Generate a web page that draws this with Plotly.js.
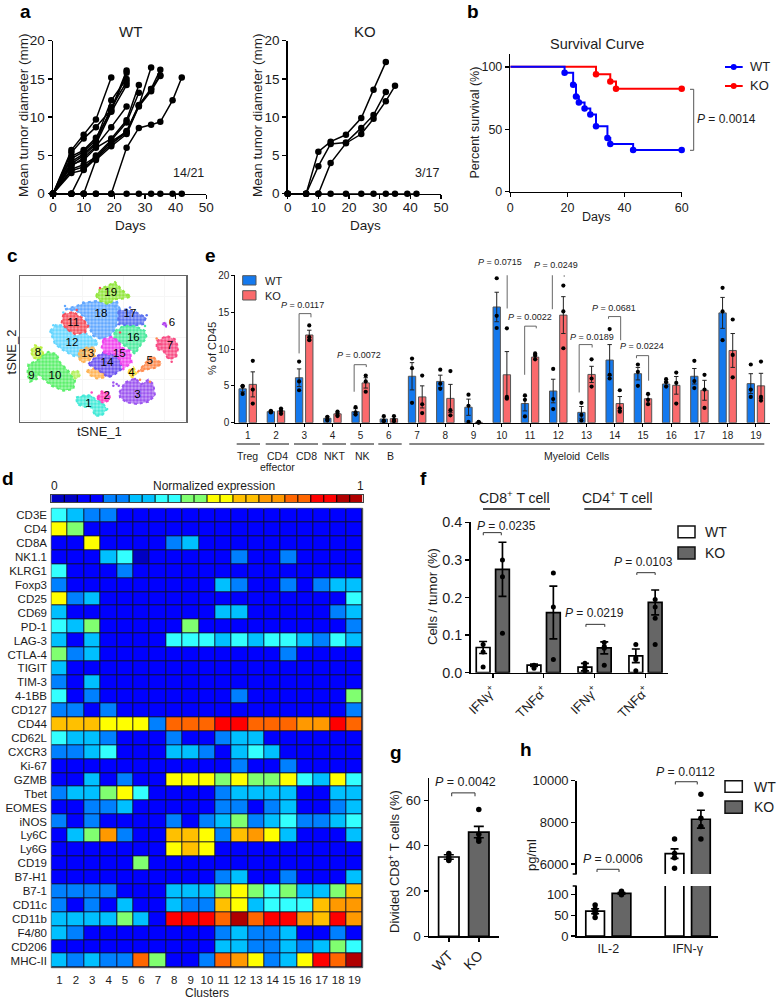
<!DOCTYPE html>
<html><head><meta charset="utf-8">
<script src="https://cdn.plot.ly/plotly-3.0.1.min.js"></script>
<style>html,body{margin:0;padding:0;background:#fff;overflow:hidden}</style>
</head><body><div id="chart" style="width:777px;height:1000px"></div>
<script>
// ---------- panel a
const aDays=[0,6,10,14,19,24,28,32,35,39,42];
const aWtTumors=[
 [0,5.7,7.7,9.7,15.2],
 [0,5.4,7.2,8.7,11.0,16.1],
 [0,4.9,5.7,7.3,10.8,15.8],
 [0,4.6,5.5,7.0,12.2,15.0],
 [0,4.2,5.2,6.7,11.3,14.6],
 [0,3.9,5.0,6.5,10.7,14.2],
 [0,3.6,4.7,6.2,8.7,11.4],
 [0,3.8,4.4,6.0,7.2,9.6,14.2],
 [0,0,3.2,5.0,7.0,9.3,13.2],
 [0,3.2,3.8,4.8,6.8,8.1,11.5,16.5],
 [0,3.0,3.5,4.6,6.5,8.0,11.5,13.7,16.2],
 [0,2.7,3.1,4.6,6.5,8.2,11.6,13.7,15.5],
 [0,0,0,4.4,6.2,7.8,11.4,13.4,15.4],
 [0,0,0,0,0,6.0,8.6,9.0,9.4,12.2,15.2],
 [0,0,0,0,0,0,0,0,0,0,0]];
const aKoTumors=[
 [0,0,5.5,6.8,7.7,9.9,13.6,17.2],
 [0,0,3.6,6.5,6.7,8.6,10.3,13.3],
 [0,0,0,4.0,6.6,7.8,9.8,12.1,14.1],
 [0,0,0,0,0,0,0,0,0,0,0]];
// ---------- panel b
const bWtDays=[0,19,22,23,24,26,28,30,34,35,43,60];
const bWtSurv=[100,95.2,85.7,76.2,71.4,66.7,61.9,52.4,42.9,38.1,33.3,33.3];
const bKoDays=[0,30,35,37,60];
const bKoSurv=[100,94.1,88.2,82.4,82.4];
// ---------- panel c (outlines)
const c19=[[228,60],[240,38],[262,30],[285,18],[300,35],[315,50],[333,62],[310,68],[285,70],[265,85],[240,75]];
const c18=[[135,100],[170,90],[195,80],[230,75],[265,85],[290,75],[300,100],[295,130],[285,160],[270,180],[245,190],[220,180],[205,150],[195,125],[170,105]];
const c17=[[295,105],[320,100],[350,110],[378,125],[370,145],[340,150],[315,148],[295,145]];
const c12=[[90,165],[110,145],[130,150],[165,180],[195,170],[220,190],[235,200],[220,215],[190,225],[185,245],[160,240],[125,220],[105,205]];
const c11=[[130,115],[160,108],[185,125],[205,150],[195,170],[165,175],[140,160],[125,140]];
const c13=[[178,225],[200,215],[225,215],[225,240],[205,255],[185,260],[175,245]];
const c13b=[[200,285],[220,278],[250,290],[255,305],[230,308],[210,298]];
const c16=[[285,165],[310,150],[345,150],[375,165],[380,185],[360,210],[345,235],[330,220],[300,200],[280,185]];
const c15=[[250,190],[275,183],[295,195],[305,215],[330,225],[335,260],[310,280],[300,255],[290,235],[255,235],[245,215]];
const c14=[[205,265],[225,245],[250,230],[285,235],[302,255],[305,280],[285,295],[265,305],[245,290],[220,275]];
const c10=[[65,240],[85,228],[110,235],[120,260],[145,285],[165,315],[160,340],[130,345],[95,330],[70,310],[55,295],[50,310],[30,318],[22,295],[25,265],[50,255]];
const c10b=[[155,290],[170,283],[182,295],[170,310],[160,305]];
const c8=[[33,225],[45,208],[65,215],[70,235],[55,250],[38,245]];
const c7=[[410,195],[440,180],[465,190],[475,215],[468,245],[445,250],[430,225],[410,220]];
const c5=[[352,290],[375,265],[395,240],[410,252],[425,262],[410,275],[385,280]];
const c4=[[325,285],[340,275],[350,290],[340,305],[328,300]];
const c6=[[428,143],[440,140],[438,152],[430,150]];
const c3=[[298,350],[315,320],[345,308],[365,325],[385,312],[400,325],[405,360],[385,378],[350,385],[320,380],[300,365]];
const c2=[[232,365],[245,347],[268,350],[270,372],[250,382],[238,378]];
const c1=[[168,365],[195,358],[215,360],[225,370],[250,385],[262,400],[245,420],[225,420],[215,395],[190,393],[172,385]];
const tsneBlobs=[c18,c19,c17,c12,c11,c13,c13b,c16,c14,c15,c10,c10b,c8,c7,c5,c4,c6,c3,c2,c1];
const tsneColors=['#62a8ff','#92e63e','#5a72f0','#66d6ff','#f5505c','#ffb455','#ffb455','#4cea9e','#6c55f0','#f046ee','#5cf06c','#b4f060','#bcf040','#f84c84','#ff8c50','#ffe040','#b040f0','#9c55f0','#ff44c0','#44ead8'];
const tsneLabels=['1','2','3','4','5','6','7','8','9','10','11','12','13','14','15','16','17','18','19'];
const tsneLabelX=[205,260,352,334,389,456,450,54,34,105,160,156,203,261,298,340,330,243,272];
const tsneLabelY=[385,362,358,293,255,142,210,231,300,302,141,203,235,263,234,186,116,115,50];
const tsneStrayX=[170,240,285,330,380,100,95,120,235,280,410,420,455,290,280,296,345,360,390,215,205,300,250,190,135,130,375];
const tsneStrayY=[102,36,92,95,118,148,170,210,365,330,188,205,258,325,320,330,310,312,318,350,360,170,200,80,90,110,150];
const tsneStrayC=['#f5505c','#f5505c','#62a8ff','#5a72f0','#5a72f0','#66d6ff','#66d6ff','#66d6ff','#ff44c0','#9c55f0','#ff8c50','#f84c84','#f84c84','#9c55f0','#9c55f0','#9c55f0','#9c55f0','#ff8c50','#ff8c50','#ff44c0','#44ead8','#f5505c','#f046ee','#62a8ff','#62a8ff','#66d6ff','#4cea9e'];
// ---------- panel d
const markers=['CD3E','CD4','CD8A','NK1.1','KLRG1','Foxp3','CD25','CD69','PD-1','LAG-3','CTLA-4','TIGIT','TIM-3','4-1BB','CD127','CD44','CD62L','CXCR3','Ki-67','GZMB','Tbet','EOMES','iNOS','Ly6C','Ly6G','CD19','B7-H1','B7-1','CD11c','CD11b','F4/80','CD206','MHC-II'];
const clusters=[1,2,3,4,5,6,7,8,9,10,11,12,13,14,15,16,17,18,19];
const exprLevels=[
[4,3,2,2,1,1,1,1,1,1,1,1,1,1,1,1,1,1,1],
[6,5,1,1,1,1,1,1,1,1,1,1,1,1,1,1,1,1,1],
[1,1,6,1,1,1,1,2,3,1,1,1,1,1,1,1,1,1,1],
[1,1,1,3,4,0,1,1,1,1,1,2,1,1,2,1,1,1,1],
[4,1,1,1,2,1,1,1,1,1,1,1,1,1,1,1,1,1,1],
[2,1,1,1,1,1,1,1,1,1,3,2,1,1,2,1,2,3,3],
[6,2,3,1,1,1,1,1,1,1,1,1,1,1,1,1,1,1,4],
[3,1,1,1,1,1,1,1,1,1,3,3,1,1,1,1,1,2,3],
[4,3,5,1,1,1,1,1,5,1,1,1,1,1,1,1,1,1,2],
[3,1,3,1,1,1,1,4,4,4,3,4,3,4,4,3,2,4,3],
[5,2,3,1,1,1,1,1,1,1,1,1,1,1,2,1,1,1,1],
[3,1,1,1,1,1,1,1,1,1,1,1,1,1,1,1,1,1,1],
[2,1,3,1,1,1,1,1,1,1,1,1,1,1,1,1,1,1,1],
[4,1,2,1,1,1,1,1,1,1,1,2,1,1,1,1,1,1,5],
[2,2,1,2,1,1,1,1,1,1,1,1,1,1,1,1,1,1,2],
[7,7,7,6,6,6,2,9,9,9,10,10,9,9,9,8,8,10,9],
[4,3,3,2,1,1,1,2,1,1,2,3,3,1,1,1,1,1,1],
[2,2,3,4,1,1,1,3,3,2,1,3,4,3,1,1,1,1,1],
[1,1,1,1,1,1,1,1,1,1,1,2,1,1,2,1,1,1,1],
[1,1,3,1,2,1,1,6,6,6,5,6,5,5,6,4,3,6,4],
[2,3,3,5,6,4,1,1,1,1,2,3,3,3,3,1,1,3,3],
[1,1,2,2,3,1,1,1,1,1,2,2,1,2,3,1,1,2,3],
[2,1,2,1,1,1,1,2,1,2,3,5,2,3,4,2,2,3,4],
[1,3,5,8,2,1,1,7,7,6,2,7,8,6,3,1,1,1,3],
[1,1,1,1,1,1,1,6,7,6,1,1,1,1,1,1,1,1,1],
[1,1,1,1,1,5,1,1,1,1,1,1,1,1,1,1,1,1,1],
[1,1,1,1,1,1,1,1,1,1,2,3,1,1,2,1,1,1,3],
[2,2,2,2,1,1,1,3,3,3,5,6,5,4,5,3,3,5,7],
[2,1,2,1,3,1,1,3,2,2,7,6,3,4,4,4,7,8,8],
[3,3,3,3,5,3,1,10,10,10,9,11,9,10,10,8,7,10,8],
[3,2,1,1,1,1,1,1,1,1,2,3,2,2,3,1,1,2,1],
[1,1,1,1,1,1,1,1,1,1,3,3,2,2,3,2,3,5,4],
[3,2,3,2,2,9,5,1,1,2,9,8,6,2,3,6,10,9,11]];
const levelColors=['#0000c4','#0000ff','#0080ff','#00c0ff','#33ffff','#80ff70','#ffff00','#ffc000','#ff9900','#ff6600','#ff0000','#b00000'];
const scaleBins=[0,0,1,1,2,2,3,3,4,4,5,5,6,6,7,7,8,8,9,9,10,10,11,11];
// ---------- panel e
const eGroups=[1,2,3,4,5,6,7,8,9,10,11,12,13,14,15,16,17,18,19];
const eWtMean=[4.6,1.5,6.1,0.6,1.5,0.5,6.3,5.6,2.1,15.7,2.6,4.3,1.4,8.5,6.65,5.25,6.3,14.9,5.3];
const eKoMean=[5.2,1.6,11.9,1.2,5.4,0.55,3.5,3.3,0.05,6.5,8.9,14.6,6.55,2.6,3.25,5.07,4.4,9.8,5.0];
const eWtErr=[0.4,0.15,1.2,0.2,0.4,0.3,1.85,0.85,1.1,2.0,1.0,1.6,0.8,2.1,0.85,0.3,1.05,2.1,1.35];
const eKoErr=[1.7,0.3,0.65,0.25,0.7,0.3,1.5,1.9,0.05,3.15,0.3,2.5,1.1,0.95,0.6,1.2,1.35,2.3,1.7];
const eWtDots=[[4.9,5.0,3.9],[1.5,1.6,1.4],[8.3,5.6,4.4],[0.8,0.5,0.3],[2.1,1.4,1.1],[0.9,0.3,0.2],[8.7,7.4,2.7],[7.2,5.3,4.6],[3.8,2.3,0.1],[19.6,14.5,12.85],[3.7,3.1,0.85],[7.3,3.2,1.85],[2.7,1.05,0.3],[12.7,6.5,6.0],[7.9,6.9,5.0],[5.9,5.5,4.9],[8.4,5.65,4.7],[18.3,15.1,11.2],[7.9,4.5,3.5]];
const eKoDots=[[8.4,4.5,2.6],[1.9,1.6,1.2],[13.2,11.6,11.2],[1.5,1.2,0.9],[6.4,5.6,4.2],[0.9,0.4,0.2],[6.4,2.5,1.3],[7.0,1.7,1.0],[0.1,0.05,0],[12.8,3.5,3.25],[9.4,9.1,8.6],[18.6,15.1,10.1],[8.6,6.0,4.9],[4.4,1.95,1.5],[3.9,3.1,2.5],[6.8,5.4,2.6],[6.5,4.5,2.0],[14.0,9.2,6.15],[8.3,3.5,3.0]];
// left x, left foot, top, right x, right foot
const eBrackets=[[2.82,9.4,14.8,3.24,14.3],[4.77,4.2,7.87,5.2,7.55],[9.78,20.3,20.5,10.19,15.5],[10.81,6.5,13.1,11.22,12.8],[11.79,15.4,20.2,12.21,19.8],[12.74,4.1,10.6,13.2,10.2],[13.78,14.1,14.4,14.21,11.2],[14.77,8.75,9.1,15.2,5.7]];
const ePvalues=['0.0117','0.0072','0.0715','0.0022','0.0249','0.0189','0.0681','0.0224'];
const ePvalX=[302.7,358.7,500,530,556,591.7,613.7,641.7];
const ePvalY=[304.7,355.3,262,317,265,337,307.7,346];
// ---------- panel f
const fLabels=['IFNγ<sup>+</sup>','TNFα<sup>+</sup>','IFNγ<sup>+</sup>','TNFα<sup>+</sup>'];
const fWtMean=[0.067,0.02,0.015,0.045];
const fKoMean=[0.275,0.16,0.066,0.187];
const fWtErr=[0.016,0.003,0.01,0.018];
const fKoErr=[0.072,0.07,0.016,0.033];
const fWtDots=[[0.075,0.055,0.015],[0.02,0.017,0.012],[0.025,0.015,0.01,0.005],[0.075,0.04,0.035,0.005]];
const fKoDots=[[0.3,0.255,0.105],[0.265,0.175,0.035],[0.08,0.07,0.065,0.02],[0.195,0.175,0.145,0.075]];
const fBrackets=[[-0.187,0.3655,0.3725,0.167,0.3655],[1.83,0.122,0.1286,2.2,0.122],[2.83,0.26,0.266,3.19,0.26]];
// ---------- panel g
const gLabels=['WT','KO'];
const gMean=[35,46];
const gErr=[1,2.5];
const gDots=[[36.5,35,34,33.5],[56,45,43,42]];
// ---------- panel h
const hLabels=['IL-2','IFN-γ'];
const hWtMean=[60,6500];
const hKoMean=[103,8150];
const hWtErr=[6,230];
const hKoErr=[2,430];
const hWtDots=[[75,65,60,55,45],[7200,6500,6300,5800]];
const hKoDots=[[108,105,102,100],[9350,8200,7800,7200]];

// ---------- helpers
const W=777,H=1000,FONT='"Liberation Sans", Arial, sans-serif',INK='#1c1c1c';
const dx=(a,b)=>[a/W,b/W], dy=(top,bot)=>[1-bot/H,1-top/H];
const px=x=>x/W, py=y=>1-y/H;
const annotations=[],shapes=[],traces=[];
const ann=(text,x,y,size,o={})=>annotations.push(Object.assign({text,x:px(x),y:py(y),xref:'paper',yref:'paper',showarrow:false,xanchor:'center',yanchor:'middle',font:{family:FONT,size,color:INK}},o));
const vtitle=(text,x,y,size)=>ann(text,x,y,size,{textangle:-90});
const pline=(x0,y0,x1,y1,color='#111',width=1.5)=>shapes.push({type:'line',xref:'paper',yref:'paper',x0:px(x0),y0:py(y0),x1:px(x1),y1:py(y1),line:{color,width}});
const pbox=(x0,y0,x1,y1,fill,lineC='#111',width=1.5,layer='above')=>shapes.push({type:'rect',layer,xref:'paper',yref:'paper',x0:px(x0),y0:py(y0),x1:px(x1),y1:py(y1),fillcolor:fill,line:{color:lineC,width}});
const axis=(domain,range,fs,extra={})=>Object.assign({domain,range,showgrid:false,zeroline:false,showline:true,linecolor:'#000',linewidth:1.5,ticks:'outside',ticklen:4,tickwidth:1.5,tickcolor:'#000',tickfont:{family:FONT,size:fs,color:INK},fixedrange:true},extra);
const dotsTrace=(xs,rows,xa,ya,size,color='#000')=>{const x=[],y=[];rows.forEach((r,i)=>r.forEach(v=>{x.push(xs[i]);y.push(v)}));
  traces.push({type:'scatter',mode:'markers',x,y,xaxis:xa,yaxis:ya,cliponaxis:false,marker:{size,color},hoverinfo:'skip'});};
const barTrace=(x,y,err,xa,ya,width,fill,lineC,lw,ew)=>traces.push({type:'bar',x,y,width,xaxis:xa,yaxis:ya,marker:{color:fill,line:{color:lineC,width:lw}},error_y:{type:'data',array:err,visible:true,color:lineC=='#000'?'#000':'#222',thickness:ew,width:ew>1.2?4:2.2}});
const brackets=(list,xa,ya,color,w)=>list.forEach(b=>traces.push({type:'scatter',mode:'lines',x:[b[0],b[0],b[3],b[3]],y:[b[1],b[2],b[2],b[4]],xaxis:xa,yaxis:ya,cliponaxis:false,line:{color,width:w},hoverinfo:'skip'}));
const pText=p=>'<i>P</i> = '+p;
const layout={width:W,height:H,margin:{l:0,r:0,t:0,b:0},paper_bgcolor:'#fff',plot_bgcolor:'rgba(0,0,0,0)',showlegend:false,barmode:'overlay',font:{family:FONT,color:INK},annotations,shapes};

// ---------- a
function growth(rows,xa,ya){rows.forEach(r=>traces.push({type:'scatter',mode:'lines+markers',x:aDays.slice(0,r.length),y:r,xaxis:xa,yaxis:ya,cliponaxis:false,line:{color:'#000',width:1.5},marker:{size:6.5,color:'#000'},hoverinfo:'skip'}));}
growth(aWtTumors,'x','y');growth(aKoTumors,'x2','y2');
layout.xaxis=axis(dx(53,206.3),[0,50],13.5,{anchor:'y',tick0:0,dtick:10,ticklabelstandoff:-3});
layout.yaxis=axis(dy(40.7,193.7),[0,20],13.5,{anchor:'x',tick0:0,dtick:5});
layout.xaxis2=axis(dx(287.7,441),[0,50],13.5,{anchor:'y2',tick0:0,dtick:10,ticklabelstandoff:-3});
layout.yaxis2=axis(dy(40.7,193.7),[0,20],13.5,{anchor:'x2',tick0:0,dtick:5});
ann('Days',130,226,13.5);ann('Days',365,226,13.5);
vtitle('Mean tumor diameter (mm)',24,115,13.5);vtitle('Mean tumor diameter (mm)',258,115,13.5);
ann('WT',130,31,15);ann('KO',365,31,15);ann('14/21',188,173,12.5);ann('3/17',427,173,12.5);

// ---------- b
[[bKoDays,bKoSurv,'#ff0000'],[bWtDays,bWtSurv,'#0000ff']].forEach(([d,s,c])=>{
 traces.push({type:'scatter',mode:'lines',x:d,y:s,xaxis:'x3',yaxis:'y3',cliponaxis:false,line:{color:c,width:2,shape:'hv'},hoverinfo:'skip'});
 traces.push({type:'scatter',mode:'markers',x:d.slice(1),y:s.slice(1),xaxis:'x3',yaxis:'y3',cliponaxis:false,marker:{size:6.5,color:c},hoverinfo:'skip'});});
layout.xaxis3=axis(dx(510.3,681.7),[0,60],12.5,{anchor:'y3',tick0:0,dtick:20});
layout.yaxis3=axis(dy(54.3,191.7),[0,110],12.5,{anchor:'x3',tickvals:[0,50,100]});
ann('Days',596,217,12.5);vtitle('Percent survival (%)',474,122.5,12.5);
ann('Survival Curve',596.7,43.7,14.5);
[['WT','#0000ff',67],['KO','#ff0000',86]].forEach(([t,c,y])=>{pline(725,y,742.7,y,c,2);
 shapes.push({type:'circle',xref:'paper',yref:'paper',x0:px(730.7),x1:px(736.7),y0:py(y+3),y1:py(y-3),fillcolor:c,line:{color:c,width:0}});
 ann(t,748,y,13,{xanchor:'left'});});
pline(690,89.3,693.7,89.3,'#555',1);pline(693.7,89.3,693.7,150.3,'#555',1);pline(690,150.3,693.7,150.3,'#555',1);
ann(pText('0.0014'),726.7,119.3,12);

// ---------- c
tsneBlobs.forEach((b,i)=>traces.push({type:'scatter',mode:'lines',x:b.map(p=>p[0]).concat(b[0][0]),y:b.map(p=>p[1]).concat(b[0][1]),fill:'toself',fillcolor:tsneColors[i]+'99',fillpattern:{shape:'.',size:3.5,solidity:0.62,fgcolor:tsneColors[i],bgcolor:tsneColors[i]+'88',fgopacity:1},line:{width:2,color:tsneColors[i],dash:'dot'},xaxis:'x4',yaxis:'y4',hoverinfo:'skip'}));
traces.push({type:'scatter',mode:'markers',x:tsneStrayX,y:tsneStrayY,marker:{size:2.5,color:tsneStrayC},xaxis:'x4',yaxis:'y4',hoverinfo:'skip'});
traces.push({type:'scatter',mode:'text',x:tsneLabelX,y:tsneLabelY,text:tsneLabels,textfont:{family:FONT,size:11.5,color:'#000'},xaxis:'x4',yaxis:'y4',hoverinfo:'skip'});
layout.xaxis4=axis(dx(20,186),[0,498],13,{anchor:'y4',showticklabels:false,ticks:'',mirror:true,linecolor:'#666',showgrid:true,gridcolor:'#f6f6f6',tick0:62,dtick:124});
layout.yaxis4=axis(dy(276,421.7),[438,0],13,{anchor:'x4',showticklabels:false,ticks:'',mirror:true,linecolor:'#666',showgrid:true,gridcolor:'#f6f6f6',tick0:62,dtick:124});
ann('tSNE_1',99,431,13);vtitle('tSNE_2',11.7,351.7,13);

// ---------- d
const stepScale=[];levelColors.forEach((c,i)=>{stepScale.push([i/12,c],[(i+1)/12,c]);});
pbox(51.3,508.3,362.7,967.7,'#10102c','#555',1,'below');
traces.push({type:'heatmap',x:clusters,y:markers,z:exprLevels,zmin:-0.5,zmax:11.5,colorscale:stepScale,showscale:false,xgap:1,ygap:1,xaxis:'x5',yaxis:'y5',hoverongaps:false});
layout.xaxis5=axis(dx(51.3,362.7),[0.5,19.5],11.5,{anchor:'y5',tickvals:clusters,showline:false,ticklen:1,tickcolor:'rgba(0,0,0,0)'});
layout.yaxis5=axis(dy(508.3,967.7),[32.5,-0.5],11.5,{anchor:'x5',type:'category',showline:false,ticklen:1,tickcolor:'rgba(0,0,0,0)',tickmode:'linear',tick0:0,dtick:1});
ann('Clusters',207,993,12);
traces.push({type:'heatmap',x:scaleBins.map((_,i)=>i),y:[0],z:[scaleBins],zmin:-0.5,zmax:11.5,colorscale:stepScale,showscale:false,xaxis:'x6',yaxis:'y6'});
traces.push({type:'scatter',mode:'markers',x:scaleBins.slice(1).map((_,i)=>i+0.5),y:scaleBins.slice(1).map(()=>0),marker:{symbol:'line-ns',size:5,line:{color:'#000',width:1}},xaxis:'x6',yaxis:'y6',hoverinfo:'skip'});
layout.xaxis6=axis(dx(51.3,362.7),[-0.5,23.5],10,{anchor:'y6',showticklabels:false,ticks:'',mirror:true,linecolor:'#444',linewidth:1});
layout.yaxis6=axis(dy(495,502),[-0.5,0.5],10,{anchor:'x6',showticklabels:false,ticks:'',mirror:true,linecolor:'#444',linewidth:1});
ann('0',54,485.7,12);ann('Normalized expression',213.7,485.7,12);ann('1',360,485.7,12);

// ---------- e
const eOff=0.18,eW=0.26,eBlue='#1479ee',eRed='#fa6a6c';
barTrace(eGroups.map(g=>g-eOff),eWtMean,eWtErr,'x7','y7',eW,eBlue,'#555',1,1);
barTrace(eGroups.map(g=>g+eOff),eKoMean,eKoErr,'x7','y7',eW,eRed,'#555',1,1);
dotsTrace(eGroups.map(g=>g-eOff),eWtDots,'x7','y7',4.2);
dotsTrace(eGroups.map(g=>g+eOff),eKoDots,'x7','y7',4.2);
brackets(eBrackets,'x7','y7','#555',0.9);
layout.xaxis7=axis(dx(235.3,770),[0.56,19.5],10,{anchor:'y7',tickvals:eGroups,ticklen:3,tickwidth:1,linewidth:1});
layout.yaxis7=axis(dy(275.3,422.7),[0,20],10,{anchor:'x7',tickvals:[0,5,10,15,20],ticklen:3,tickwidth:1,linewidth:1});
vtitle('% of CD45',212,348,11);
ePvalues.forEach((p,i)=>ann(pText(p),ePvalX[i],ePvalY[i],9));
pbox(242.7,275.7,256,285,eBlue,'#555',1);pbox(242.7,290.7,256,300,eRed,'#555',1);
ann('WT',263.3,280.5,11,{xanchor:'left'});ann('KO',263.3,295.5,11,{xanchor:'left'});
[[236.7,260,'Treg',247.7],[265.7,289,'CD4',277.3],[294,318,'CD8',306.7],[322.3,346,'NKT',335],[350.3,374,'NK',362.7],[378.3,401.7,'B',390]].forEach(([a,b,t,c])=>{pline(a,444,b,444,'#111',1);ann(t,c,455.5,10.5);});
ann('effector',277.3,467,10.5);
pline(409.3,444,764.3,444,'#111',1);ann('Myeloid&nbsp;&nbsp;Cells',576.7,455.5,10.5);

// ---------- f
const fX=[0,1,2,3],fOff=0.19,fW=0.27,greyBar='#666666';
barTrace(fX.map(g=>g-fOff),fWtMean,fWtErr,'x8','y8',fW,'#fff','#000',1.7,1.7);
barTrace(fX.map(g=>g+fOff),fKoMean,fKoErr,'x8','y8',fW,greyBar,'#000',1.7,1.7);
dotsTrace(fX.map(g=>g-fOff),fWtDots,'x8','y8',5);
dotsTrace(fX.map(g=>g+fOff),fKoDots,'x8','y8',5);
brackets(fBrackets,'x8','y8','#333',1);
layout.xaxis8=axis(dx(470.7,668.3),[-0.434,3.448],13,{anchor:'y8',tickvals:fX,ticktext:fLabels,tickangle:-45});
layout.yaxis8=axis(dy(522.3,672.7),[0,0.4],14.4,{anchor:'x8',tickvals:[0,0.1,0.2,0.3,0.4],tickformat:'.1f'});
vtitle('Cells / tumor (%)',432,597,13);
ann('CD8<sup>+</sup> T cell',514.3,497,14);ann('CD4<sup>+</sup> T cell',617.7,497,14);
pline(483,509,550,509,'#111',1.5);pline(584.3,509,651.7,509,'#111',1.5);
ann(pText('0.0235'),506,526,12);ann(pText('0.0219'),594.3,613.3,12);ann(pText('0.0103'),643.3,561.7,12);
pbox(678,526,695,537.7,'#fff');pbox(678,547,695,559,greyBar);
ann('WT',703.3,532,14,{xanchor:'left'});ann('KO',703.3,553,14,{xanchor:'left'});

// ---------- g
const gX=[0,1];
traces.push({type:'bar',x:gX,y:gMean,width:0.68,xaxis:'x9',yaxis:'y9',marker:{color:['#fff',greyBar],line:{color:'#000',width:1.7}},error_y:{type:'data',array:gErr,visible:true,color:'#000',thickness:1.7,width:5}});
dotsTrace(gX,gDots,'x9','y9',5.5);
brackets([[0.097,61.8,63.3,0.873,61.8]],'x9','y9','#333',1);
layout.xaxis9=axis(dx(429,499),[-0.66,1.673],14,{anchor:'y9',tickvals:gX,ticktext:gLabels,tickangle:-45});
layout.yaxis9=axis(dy(777.7,936.3),[0,70],13.5,{anchor:'x9',tickvals:[0,20,40,60]});
vtitle('Divided CD8<sup>+</sup> T cells (%)',394,862,13);
ann(pText('0.0042'),465.7,782.3,12.5);

// ---------- h
const hX=[0,1],hOff=0.166,hW=0.235;
barTrace(hX.map(g=>g-hOff),hWtMean,[hWtErr[0],0],'x10','y10',hW,'#fff','#000',1.7,1.7);
barTrace(hX.map(g=>g+hOff),hKoMean,[hKoErr[0],0],'x10','y10',hW,greyBar,'#000',1.7,1.7);
barTrace(hX.map(g=>g-hOff),hWtMean,[0,hWtErr[1]],'x11','y11',hW,'#fff','#000',1.7,1.7);
barTrace(hX.map(g=>g+hOff),hKoMean,[0,hKoErr[1]],'x11','y11',hW,greyBar,'#000',1.7,1.7);
dotsTrace([-hOff],[hWtDots[0]],'x10','y10',5.5);dotsTrace([hOff],[hKoDots[0]],'x10','y10',5.5);
dotsTrace([1-hOff],[hWtDots[1]],'x11','y11',5.5);dotsTrace([1+hOff],[hKoDots[1]],'x11','y11',5.5);
brackets([[-0.142,5616,5746,0.135,5616],[0.844,9820,9950,1.12,9820]],'x11','y11','#333',1);
layout.xaxis10=axis(dx(576.7,718.3),[-0.398,1.385],12.5,{anchor:'y10',tickvals:hX,ticktext:hLabels,ticks:''});
layout.yaxis10=axis(dy(886,936),[0,121],13,{anchor:'x10',tickvals:[0,50,100]});
layout.xaxis11=axis(dx(576.7,718.3),[-0.398,1.385],12.5,{anchor:'y11',visible:false});
layout.yaxis11=axis(dy(780.7,874),[5520,10000],13,{anchor:'x11',tickvals:[6000,8000,10000],tickformat:'d'});
pline(572.7,874,576.7,874,'#000',1.5);pline(572.7,886,576.7,886,'#000',1.5);
vtitle('pg/ml',531,855,13);
ann(pText('0.0006'),613.3,858.7,12.3);ann(pText('0.0112'),685,772.3,12.3);
pbox(725,780.7,742.3,792.3,'#fff');pbox(725,801,742.3,813.3,greyBar);
ann('WT',751.7,787,14,{xanchor:'left'});ann('KO',751.7,807,14,{xanchor:'left'});

// ---------- panel letters
[['a',25,11],['b',472.7,11],['c',12,255.7],['d',8,478],['e',210,255.7],['f',424,478],['g',396,752],['h',525.7,749]].forEach(([t,x,y])=>ann('<b>'+t+'</b>',x,y,19,{font:{family:FONT,size:19,color:'#000'}}));

Plotly.newPlot('chart',traces,layout,{displayModeBar:false,staticPlot:true});
</script></body></html>
